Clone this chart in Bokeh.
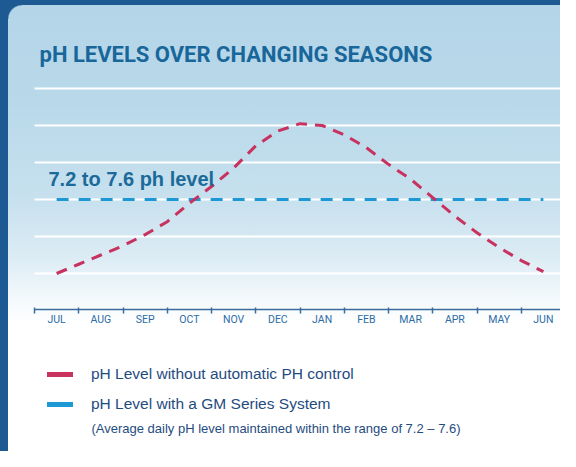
from bokeh.plotting import figure
from bokeh.models import (Range1d, FixedTicker, Label, Legend, LegendItem, LinearAxis)
from bokeh.embed import file_html
from bokeh.resources import INLINE

NAN = float("nan")

# ---- data ----
months = ["JUL", "AUG", "SEP", "OCT", "NOV", "DEC",
          "JAN", "FEB", "MAR", "APR", "MAY", "JUN"]
month_pos = [0.5, 1.5, 2.5, 3.5, 4.5, 5.5, 6.5, 7.5, 8.5, 9.5, 10.5, 11.5]
month_edges = [0, 1, 2, 3, 4, 5, 6, 7, 8, 9, 10, 11, 12]
# pH at mid-month and month-boundary positions
curve_pos = [0.5, 1.0, 1.5, 2.0, 2.5, 3.0, 3.5, 4.0, 4.5, 5.0, 5.5, 6.0,
             6.5, 7.0, 7.5, 8.0, 8.5, 9.0, 9.5, 10.0, 10.5, 11.0, 11.5]
ph_without = [7.00, 7.05, 7.10, 7.15, 7.21, 7.28, 7.38, 7.47, 7.57, 7.69, 7.77, 7.81,
              7.80, 7.75, 7.68, 7.59, 7.51, 7.41, 7.31, 7.22, 7.14, 7.07, 7.01]
ph_with = [7.4, 7.4, 7.4, 7.4, 7.4, 7.4, 7.4, 7.4, 7.4, 7.4, 7.4, 7.4]
grid_levels = [7.0, 7.2, 7.4, 7.6, 7.8, 8.0]
axis_level = 6.8054

title_text = "pH LEVELS OVER CHANGING SEASONS"
band_text = "7.2 to 7.6 ph level"
legend_without = "pH Level without automatic PH control"
legend_with = "pH Level with a GM Series System"
legend_note = "(Average daily pH level maintained within the range of 7.2 \u2013 7.6)"

RED = "#c8325f"
BLUE = "#1e98d4"
NAVY = "#1f4c7f"
TITLE_C = "#19679a"
AXIS_C = "#3a6c9c"
DARK = "#1d5a94"

p = figure(width=560, height=451, output_backend="svg", toolbar_location=None,
           x_range=Range1d(-0.7684, 11.887), y_range=Range1d(6.0378, 8.4757),
           x_axis_location=None, y_axis_location=None, title=None,
           min_border=0, min_border_left=0, min_border_right=0,
           min_border_top=0, min_border_bottom=0)

p.background_fill_color = None
p.border_fill_color = None
p.outline_line_color = None
p.grid.visible = False
p.styles = {
    "background":
        "radial-gradient(circle at 22px 19px, rgba(29,90,148,0) 13px, #1d5a94 14.5px) 0 0 / 22px 19px no-repeat, "
        "linear-gradient(to bottom, #b4d5e8 0px, #b9d9ea 100px, #c6e0ee 190px, "
        "#dbebf4 250px, #eef6fa 285px, #ffffff 318px) 8px 5px / 100% 100% no-repeat, "
        + DARK,
}

# horizontal white guide lines across the month span
p.segment(x0=month_edges[0], x1=month_edges[-1], y0=grid_levels, y1=grid_levels,
          line_color="white", line_width=2)

ax = LinearAxis(fixed_location=axis_level, bounds=(month_edges[0], month_edges[-1]))
ax.ticker = FixedTicker(ticks=month_pos, minor_ticks=month_edges)
ax.major_label_overrides = {pos: m for pos, m in zip(month_pos, months)}
ax.axis_line_color = AXIS_C
ax.axis_line_width = 1.5
ax.major_tick_line_color = None
ax.major_tick_in = 0
ax.major_tick_out = 0
ax.minor_tick_line_color = AXIS_C
ax.minor_tick_line_width = 1.5
ax.minor_tick_in = 2
ax.minor_tick_out = 4
ax.major_label_standoff = 0
ax.major_label_text_font = "Roboto"
ax.major_label_text_font_size = "10.5px"
ax.major_label_text_color = "#2d6ca4"
p.add_layout(ax, "below")

# data lines
p.line(month_pos, ph_with, line_color=BLUE, line_width=3, line_dash="12 10")
p.line(curve_pos, ph_without, line_color=RED, line_width=3, line_dash="11 8")

# legend swatches (solid, thick); a single NaN point draws nothing in the plot
r_red = p.line(x=[NAN], y=[NAN], line_color=RED, line_width=5, line_cap="round")
r_blue = p.line(x=[NAN], y=[NAN], line_color=BLUE, line_width=5, line_cap="round")
legend = Legend(items=[LegendItem(label=legend_without, renderers=[r_red]),
                       LegendItem(label=legend_with, renderers=[r_blue])],
                location=(47, 37), orientation="vertical",
                background_fill_alpha=0, border_line_color=None,
                glyph_width=26, glyph_height=20, label_height=20,
                label_standoff=18, spacing=10, padding=8, margin=0,
                label_text_font="Liberation Sans", label_text_font_size="15.5px",
                label_text_color=NAVY)
p.add_layout(legend)

p.add_layout(Label(x=1.288, y=6.1595, text=legend_note,
                   text_font="Liberation Sans", text_font_size="13px",
                   text_color=NAVY, text_baseline="middle"))

p.add_layout(Label(x=0.113, y=8.1865, text=title_text,
                   text_font="Roboto", text_font_style="bold",
                   text_font_size="22px", text_color=TITLE_C,
                   text_baseline="middle"))

p.add_layout(Label(x=0.316, y=7.5135, text=band_text,
                   text_font="Liberation Sans", text_font_style="bold",
                   text_font_size="20px", text_color="#1b6a9a",
                   text_baseline="middle"))

open("out.html", "w").write(file_html(p, INLINE))
